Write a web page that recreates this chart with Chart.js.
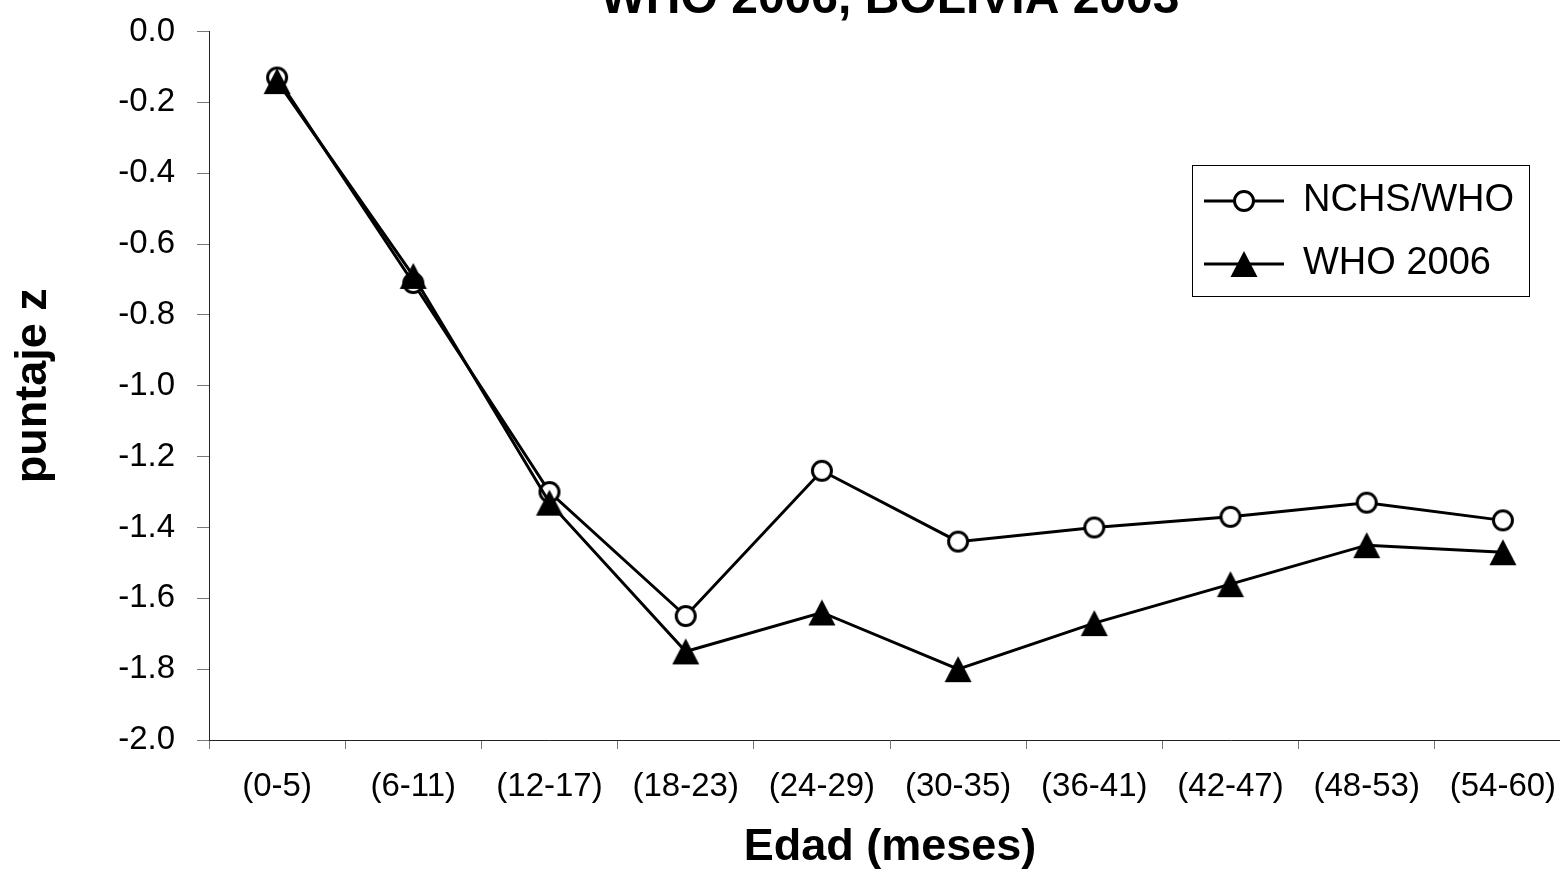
<!DOCTYPE html>
<html><head><meta charset="utf-8">
<script src="https://cdn.jsdelivr.net/npm/chart.js@4.4.1/dist/chart.umd.min.js"></script>
<style>
html,body{margin:0;padding:0;background:#fff;overflow:hidden;width:1560px;height:889px;}
#wrap{position:absolute;left:0;top:-60px;width:1580px;height:949px;}
</style></head><body>
<div id="wrap"><canvas id="c"></canvas></div>
<script>
// ---- data ----
const categories = ['(0-5)','(6-11)','(12-17)','(18-23)','(24-29)','(30-35)','(36-41)','(42-47)','(48-53)','(54-60)'];
const seriesNames = ['NCHS/WHO','WHO 2006'];
const nchsWho = [-0.13,-0.71,-1.30,-1.65,-1.24,-1.44,-1.40,-1.37,-1.33,-1.38];
const who2006 = [-0.14,-0.69,-1.33,-1.75,-1.64,-1.80,-1.67,-1.56,-1.45,-1.47];
const yMin = -2.0, yMax = 0.0, yStep = 0.2;
const titleText = 'WHO 2006, BOLIVIA 2003';
const xTitle = 'Edad (meses)';
const yTitle = 'puntaje z';

Chart.defaults.font.family = "'Liberation Sans', Arial, sans-serif";

function makeMarker(kind, lineLen) {
  const w = lineLen || 30, h = 30;
  const c = document.createElement('canvas'); c.width = w; c.height = h;
  const g = c.getContext('2d');
  const cx = w / 2, cy = h / 2;
  if (lineLen) { g.strokeStyle = '#000'; g.lineWidth = 3; g.beginPath(); g.moveTo(0, cy); g.lineTo(w, cy); g.stroke(); }
  if (kind === 'circle') {
    g.beginPath(); g.arc(cx, cy, 9.5, 0, 2 * Math.PI);
    g.fillStyle = '#fff'; g.fill(); g.lineWidth = 3; g.strokeStyle = '#000'; g.stroke();
  } else {
    g.beginPath(); g.moveTo(cx, cy - 13); g.lineTo(cx + 13.5, cy + 13); g.lineTo(cx - 13.5, cy + 13); g.closePath();
    g.fillStyle = '#000'; g.fill();
  }
  return c;
}
const pointImgs = [makeMarker('circle'), makeMarker('triangle')];
const legendImgs = [makeMarker('circle', 80), makeMarker('triangle', 80)];

const legendPlacer = {
  id: 'legendPlacer',
  afterLayout(chart) {
    const lg = chart.legend, a = chart.chartArea;
    lg.left = a.right - 392; lg.top = a.top + 125.5;
    lg.width = 400; lg.height = 200;
    lg.right = lg.left + 400; lg.bottom = lg.top + 200;
  },
  afterDraw(chart) {
    const lg = chart.legend, g = chart.ctx;
    g.save(); g.strokeStyle = '#000'; g.lineWidth = 1;
    g.strokeRect(Math.round(lg.left + 13) + 0.5, Math.round(lg.top + 8) + 0.5, 337, 131);
    g.restore();
  }
};

new Chart(document.getElementById('c'), {
  type: 'line',
  data: {
    labels: categories,
    datasets: [
      { label: seriesNames[0], data: nchsWho, borderColor: '#000', backgroundColor: '#fff', borderWidth: 3, pointStyle: pointImgs[0], tension: 0, order: 1 },
      { label: seriesNames[1], data: who2006, borderColor: '#000', backgroundColor: '#000', borderWidth: 3, pointStyle: pointImgs[1], tension: 0, order: 0 }
    ]
  },
  options: {
    responsive: true, maintainAspectRatio: false, animation: false, devicePixelRatio: 1,
    layout: { padding: { left: 0, right: 9, top: 0, bottom: 0 } },
    plugins: {
      title: { display: true, text: titleText, fullSize: false, color: '#000', font: { size: 48, weight: 'bold' }, padding: { top: 30.6, bottom: 3.3 } },
      legend: {
        position: 'chartArea', align: 'start',
        labels: {
          usePointStyle: true, pointStyleWidth: 80, boxHeight: 36, padding: 25, color: '#000', font: { size: 38 },
          sort: (a, b) => a.datasetIndex - b.datasetIndex,
          generateLabels: (chart) => chart.data.datasets.map((ds, i) => ({
            text: ds.label, datasetIndex: i, pointStyle: legendImgs[i], fillStyle: '#000', strokeStyle: '#000',
            lineWidth: 0, hidden: false, fontColor: '#000'
          }))
        }
      },
      tooltip: { enabled: false }
    },
    scales: {
      x: {
        type: 'category', offset: true,
        grid: { display: true, drawOnChartArea: false, drawTicks: true, tickLength: 9, offset: true, color: '#777', lineWidth: 1 },
        border: { display: true, color: '#222', width: 1 },
        ticks: { color: '#000', font: { size: 33 }, padding: 18, maxRotation: 0, autoSkip: false },
        title: { display: true, text: xTitle, color: '#000', font: { size: 45, weight: 'bold' }, padding: { top: 0, bottom: 14 } },
        afterFit: s => { s.height = 149; }
      },
      y: {
        min: yMin, max: yMax,
        grid: { drawOnChartArea: false, tickLength: 12, color: '#777' },
        border: { color: '#222' },
        ticks: { stepSize: yStep, color: '#000', font: { size: 33 }, padding: 22, callback: v => Number(v).toFixed(1) },
        title: { display: true, text: yTitle, color: '#000', font: { size: 45, weight: 'bold' }, padding: { top: 7, bottom: 0 } },
        afterFit: s => { s.width = 209; }
      }
    }
  },
  plugins: [legendPlacer]
});
</script>
</body></html>
